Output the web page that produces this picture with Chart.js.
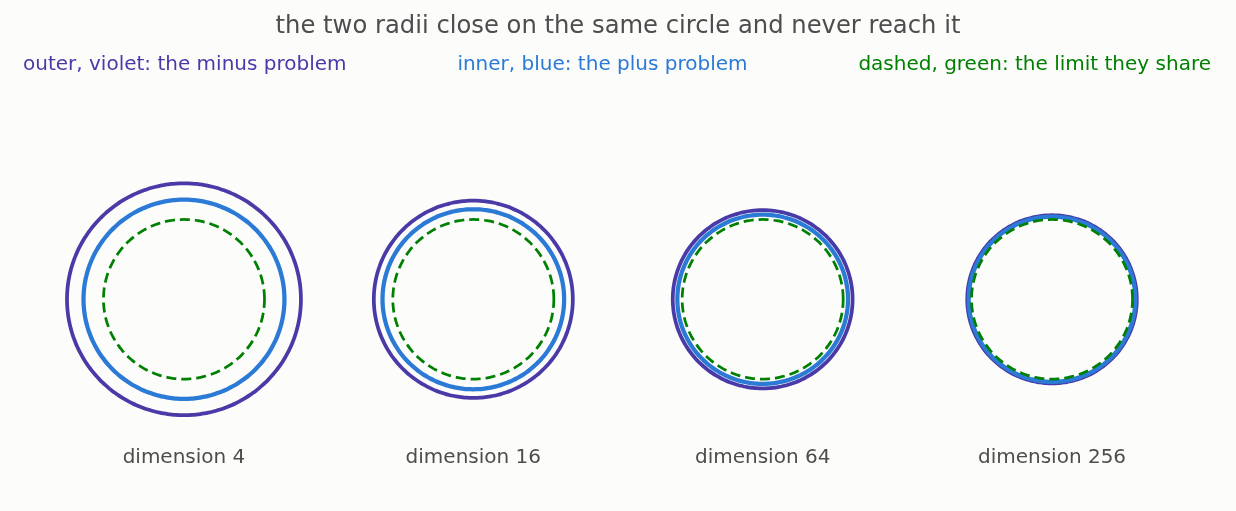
<!DOCTYPE html>
<html>
<head>
<meta charset="utf-8">
<script src="https://cdn.jsdelivr.net/npm/chart.js@4.4.1/dist/chart.umd.min.js"></script>
<style>
html,body{margin:0;padding:0;background:#fcfcfb;}
body{width:1236px;height:511px;position:relative;overflow:hidden;font-family:"DejaVu Sans",sans-serif;}
#wrap{position:absolute;left:0;top:0;width:1236px;height:511px;}
#title{position:absolute;left:0;top:10px;width:1236px;text-align:center;font-size:24.25px;line-height:29px;color:#4d4d4d;white-space:nowrap;}
#legend{position:absolute;left:0;top:50.5px;width:1236px;box-sizing:border-box;padding:0 25px 0 23px;display:flex;justify-content:space-between;font-size:20px;line-height:24px;white-space:nowrap;}
</style>
</head>
<body>
<div id="wrap"><canvas id="c"></canvas></div>
<div id="title"></div>
<div id="legend"></div>
<script>
// ---- data ----
const titleText = "the two radii close on the same circle and never reach it";
const dimensions = [4, 16, 64, 256];
const tickLabels = ["dimension 4", "dimension 16", "dimension 64", "dimension 256"];
const minusRadius = [1.453, 1.236, 1.117, 1.053];   // outer, violet
const plusRadius  = [1.248, 1.128, 1.060, 1.035];   // inner, blue
const limitRadius = [1, 1, 1, 1];                   // dashed, green
const seriesNames = ["outer, violet: the minus problem", "inner, blue: the plus problem", "dashed, green: the limit they share"];
const seriesColors = ["#4a3aa7", "#2a7ad6", "#008000"];

// ---- header (title + legend) ----
document.getElementById('title').textContent = titleText;
const legendEl = document.getElementById('legend');
seriesNames.forEach((n, i) => {
  const s = document.createElement('span');
  s.textContent = n;
  s.style.color = seriesColors[i];
  legendEl.appendChild(s);
});

// ---- geometry helpers (scale conversion only) ----
const PX_PER_SLOT = 1157.4 / 4;   // x pixels per slot
const PX_PER_UNIT = 80.5;         // pixels per radius unit (y scale)
const KX = PX_PER_UNIT / PX_PER_SLOT;
const N = 180;
function ring(slot, r) {
  const pts = [];
  for (let k = 0; k <= N; k++) {
    const t = 2 * Math.PI * k / N;
    pts.push({ x: slot + r * KX * Math.cos(t), y: r * Math.sin(t) });
  }
  return pts;
}

const series = [
  { radii: minusRadius, color: seriesColors[0], width: 3.75, dash: [], order: 3 },
  { radii: plusRadius,  color: seriesColors[1], width: 4.25, dash: [], order: 2 },
  { radii: limitRadius, color: seriesColors[2], width: 2.75, dash: [10, 5], order: 1 }
];
const datasets = [];
series.forEach((s, si) => {
  s.radii.forEach((r, i) => {
    datasets.push({
      label: seriesNames[si],
      data: ring(i, r),
      borderColor: s.color,
      backgroundColor: s.color,
      borderWidth: s.width,
      borderDash: s.dash,
      showLine: true,
      fill: false,
      pointRadius: 0,
      pointHoverRadius: 0,
      tension: 0.3,
      order: s.order
    });
  });
});

new Chart(document.getElementById('c'), {
  type: 'scatter',
  data: { datasets },
  options: {
    responsive: true,
    maintainAspectRatio: false,
    animation: false,
    events: [],
    layout: { padding: { top: 100, left: 39.3, right: 39.3, bottom: 38 } },
    plugins: { legend: { display: false }, title: { display: false }, tooltip: { enabled: false } },
    scales: {
      x: {
        type: 'linear', min: -0.5, max: 3.5,
        grid: { display: false, drawTicks: false },
        border: { display: false },
        afterBuildTicks: (s) => { s.ticks = dimensions.map((d, i) => ({ value: i })); },
        ticks: {
          padding: 3, color: '#4d4d4d', maxRotation: 0, autoSkip: false,
          font: { family: 'DejaVu Sans', size: 20 },
          callback: (v) => tickLabels[v] ?? ''
        }
      },
      y: { type: 'linear', display: false, min: -1.801, max: 2.497 }
    }
  }
});
</script>
</body>
</html>
